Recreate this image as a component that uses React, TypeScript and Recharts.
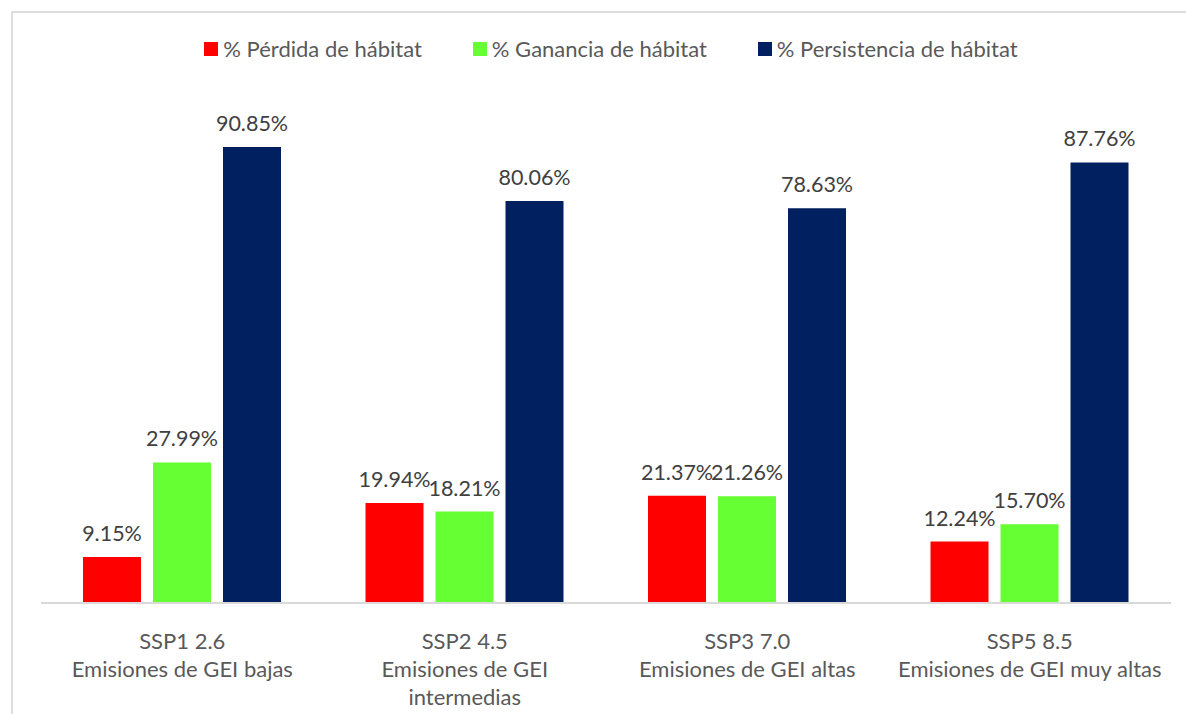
import React from 'react';
import { BarChart, Bar, XAxis, YAxis, LabelList } from 'recharts';

const scenarios = ['SSP1 2.6', 'SSP2 4.5', 'SSP3 7.0', 'SSP5 8.5'];
const descriptions = [
  ['Emisiones de GEI bajas'],
  ['Emisiones de GEI', 'intermedias'],
  ['Emisiones de GEI altas'],
  ['Emisiones de GEI muy altas'],
];
const perdida = [9.15, 19.94, 21.37, 12.24];
const ganancia = [27.99, 18.21, 21.26, 15.7];
const persistencia = [90.85, 80.06, 78.63, 87.76];

const seriesNames = ['% Pérdida de hábitat', '% Ganancia de hábitat', '% Persistencia de hábitat'];
const colors = ['#FF0000', '#66FF33', '#002060'];

const FONT = 'Lato, "Open Sans", sans-serif';

const chartData = scenarios.map((s, i) => ({
  name: s,
  perdida: perdida[i],
  ganancia: ganancia[i],
  persistencia: persistencia[i],
}));

const CategoryTick = ({ x, y, payload }: any) => {
  const idx = scenarios.indexOf(payload.value);
  const lines = [payload.value, ...(descriptions[idx] || [])];
  return (
    <g transform={`translate(${x},${y})`}>
      {lines.map((line, i) => (
        <text
          key={i}
          x={0}
          y={38 + i * 28}
          textAnchor="middle"
          fill="#595959"
          fontSize={22}
          fontFamily={FONT}
        >
          {line}
        </text>
      ))}
    </g>
  );
};

// legend drawn as html so it does not eat into the plot height
const ChartLegend = () => (
  <div
    style={{
      position: 'absolute',
      left: 0,
      top: 35,
      width: 1186,
      display: 'flex',
      justifyContent: 'center',
      paddingLeft: 36,
      boxSizing: 'border-box',
      fontFamily: FONT,
      fontSize: 22,
      lineHeight: '28px',
      color: '#595959',
      gap: 51,
    }}
  >
    {seriesNames.map((n, i) => (
      <div key={n} style={{ display: 'flex', alignItems: 'center' }}>
        <span style={{ width: 14, height: 14, background: colors[i], marginRight: 5, display: 'inline-block' }} />
        <span>{n}</span>
      </div>
    ))}
  </div>
);

const fmt = (v: any) => `${Number(v).toFixed(2)}%`;

export default function App() {
  const keys = ['perdida', 'ganancia', 'persistencia'];
  return (
    <div style={{ position: 'fixed', left: 0, top: 0, width: 1186, height: 714, background: '#fff', overflow: 'hidden' }}>
      <div
        style={{
          position: 'absolute',
          left: 11,
          top: 11,
          width: 1200,
          height: 720,
          borderTop: '2px solid #dedede',
          borderLeft: '2px solid #dedede',
        }}
      />
      <ChartLegend />
      <div style={{ position: 'absolute', left: 0, top: 0 }}>
        <BarChart
          width={1186}
          height={714}
          data={chartData}
          margin={{ top: 101, right: 15, bottom: 0, left: 41 }}
          barSize={58}
          barGap={12}
        >
          <XAxis
            dataKey="name"
            height={111}
            axisLine={{ stroke: '#d9d9d9', strokeWidth: 2 }}
            tickLine={false}
            tick={<CategoryTick />}
            interval={0}
          />
          <YAxis hide domain={[0, 100]} />
          {keys.map((k, i) => (
            <Bar key={k} dataKey={k} name={seriesNames[i]} fill={colors[i]} isAnimationActive={false}>
              <LabelList
                dataKey={k}
                position="top"
                offset={16}
                formatter={fmt}
                fill="#404040"
                fontSize={21.5}
                fontFamily={FONT}
              />
            </Bar>
          ))}
        </BarChart>
      </div>
    </div>
  );
}
